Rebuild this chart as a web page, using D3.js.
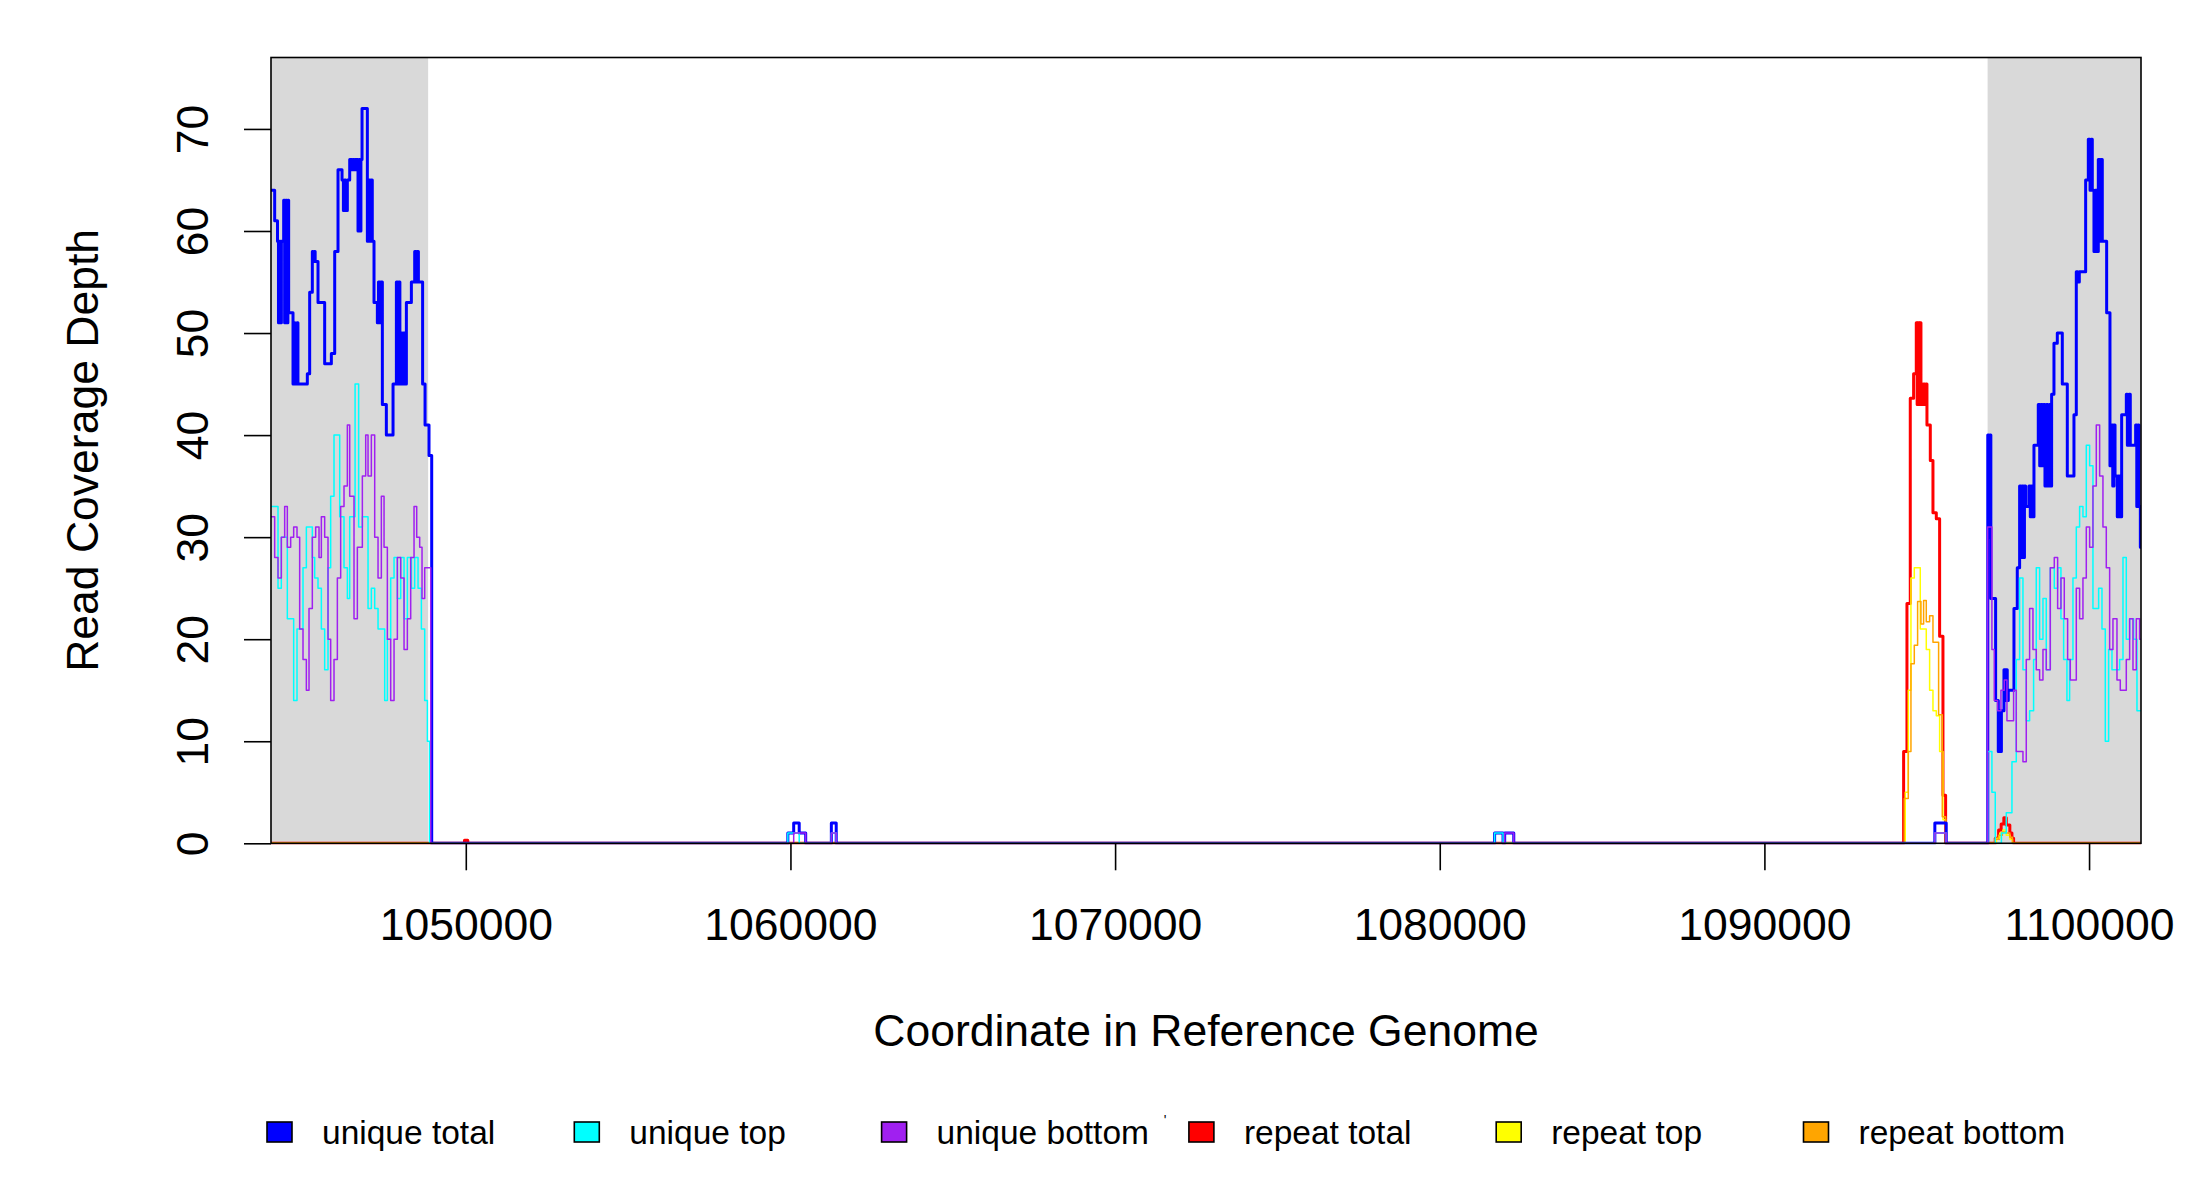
<!DOCTYPE html>
<html><head><meta charset="utf-8">
<script src="https://cdn.jsdelivr.net/npm/d3@7"></script>
<style>
body{margin:0;background:#fff;}
svg{display:block;}
text{font-family:"Liberation Sans", Arial, Helvetica, sans-serif;fill:#000;}
</style>
</head><body>
<svg id="chart" width="2200" height="1200"></svg>
<script>
// ---------------- data ----------------
const xDomain = [1044000, 1101600];
const yDomain = [0, 77];
const xTicks = [1050000, 1060000, 1070000, 1080000, 1090000, 1100000];
const yTicks = [0, 10, 20, 30, 40, 50, 60, 70];
const flankRegions = [[1044000, 1048840], [1096875, 1101600]];
const seriesNames = ["unique total", "unique top", "unique bottom", "repeat total", "repeat top", "repeat bottom"];
const xLabel = "Coordinate in Reference Genome";
const yLabel = "Read Coverage Depth";

// step breakpoints: [genome coordinate, depth]; depth holds until the next coordinate
const uniqueTotal = [
  [1044000,64],[1044113,61],[1044200,59],[1044230,51],[1044260,59],[1044290,51],[1044320,59],[1044390,63],[1044420,51],[1044450,63],[1044490,51],[1044520,63],[1044544,52],
  [1044678,45],[1044710,51],[1044740,45],[1044800,51],[1044830,45],[1045119,46],[1045191,54],[1045273,58],[1045300,57],[1045330,58],[1045360,57],[1045448,53],[1045653,47],
  [1045859,48],[1045962,58],[1046064,66],[1046188,65],[1046230,62],[1046270,65],[1046300,62],[1046352,65],[1046424,67],[1046480,66],[1046520,67],[1046560,66],[1046600,67],
  [1046680,60],[1046710,67],[1046740,60],[1046770,67],[1046804,72],[1046968,59],[1047000,65],[1047040,59],[1047080,65],[1047120,59],[1047173,53],[1047276,51],[1047310,55],
  [1047350,51],[1047390,55],[1047430,43],[1047553,40],[1047759,45],[1047862,55],[1047900,45],[1047940,55],[1047970,45],[1047995,50],[1048040,45],[1048080,50],[1048120,45],
  [1048170,53],[1048324,55],[1048426,58],[1048460,55],[1048500,58],[1048540,55],[1048670,45],[1048745,41],[1048867,38],[1048950,0],
  [1059920,1],[1060100,2],[1060270,1],[1060470,0],[1061260,2],[1061410,0],[1081690,1],[1081950,0],[1082000,1],[1082280,0],[1095250,2],[1095600,0],
  [1096880,40],[1096910,30],[1096940,40],[1096975,24],[1097122,14],[1097204,9],[1097235,13],[1097265,9],[1097300,13],[1097379,17],[1097410,14],[1097445,17],[1097480,14],
  [1097512,15],[1097687,23],[1097789,27],[1097861,35],[1097900,28],[1097940,35],[1097980,28],[1098010,35],[1098046,33],[1098149,35],[1098190,32],[1098230,35],[1098270,32],
  [1098303,39],[1098436,43],[1098480,37],[1098520,43],[1098560,37],[1098600,43],[1098642,35],[1098690,43],[1098730,35],[1098780,43],[1098820,35],[1098847,44],[1098919,49],
  [1099022,50],[1099176,45],[1099330,36],[1099535,42],[1099607,56],[1099650,55],[1099700,56],[1099895,65],[1099977,69],[1100030,64],[1100070,69],[1100100,64],[1100151,58],
  [1100190,64],[1100230,58],[1100285,67],[1100320,59],[1100360,67],[1100408,59],[1100542,52],[1100644,37],[1100700,41],[1100730,35],[1100768,41],[1100800,36],[1100870,32],
  [1100900,36],[1100940,32],[1101004,42],[1101148,44],[1101180,39],[1101230,44],[1101270,39],[1101435,41],[1101470,33],[1101500,41],[1101538,33],[1101580,29]
];
const uniqueTop = [
  [1044000,33],[1044216,25],[1044318,30],[1044503,22],[1044698,14],[1044801,21],[1044986,27],[1045089,31],[1045273,28],[1045345,26],[1045448,25],[1045551,21],[1045653,17],
  [1045756,27],[1045838,34],[1045941,40],[1046116,32],[1046249,27],[1046352,24],[1046424,32],[1046590,45],[1046700,31],[1046814,32],[1046989,23],[1047091,25],[1047194,23],
  [1047297,21],[1047502,14],[1047584,20],[1047687,26],[1047790,28],[1047892,24],[1047995,28],[1048098,22],[1048200,28],[1048324,25],[1048426,28],[1048529,25],[1048632,21],
  [1048734,14],[1048817,10],[1048883,0],
  [1059920,1],[1060270,0],[1061260,1],[1061410,0],[1081690,1],[1081950,0],[1095250,1],[1095600,0],
  [1096880,9],[1097008,5],[1097111,0],[1097300,1],[1097450,3],[1097625,8],[1097758,18],[1097861,26],[1097964,17],[1098066,12],[1098169,13],[1098292,18],[1098374,27],
  [1098477,20],[1098580,24],[1098682,17],[1098806,27],[1098929,25],[1099032,27],[1099134,22],[1099217,18],[1099319,14],[1099401,18],[1099504,26],[1099607,31],[1099709,33],
  [1099812,32],[1099915,39],[1100018,37],[1100120,23],[1100295,25],[1100398,21],[1100500,10],[1100603,19],[1100706,17],[1100942,18],[1101045,28],[1101147,20],[1101250,22],
  [1101373,20],[1101476,13]
];
const uniqueBottom = [
  [1044000,32],[1044113,28],[1044216,26],[1044318,30],[1044421,33],[1044503,29],[1044606,30],[1044698,31],[1044801,30],[1044883,21],[1044986,18],[1045089,15],[1045171,23],
  [1045273,30],[1045376,31],[1045479,28],[1045551,32],[1045653,30],[1045756,20],[1045838,14],[1045941,18],[1046044,26],[1046146,33],[1046249,35],[1046352,41],[1046424,34],
  [1046557,22],[1046660,29],[1046814,36],[1046917,40],[1046989,36],[1047091,40],[1047194,30],[1047297,26],[1047399,34],[1047482,29],[1047584,20],[1047687,14],[1047790,20],
  [1047892,28],[1047995,26],[1048098,19],[1048200,22],[1048303,28],[1048406,33],[1048488,30],[1048580,29],[1048652,24],[1048734,27],[1048920,0],
  [1060100,1],[1060470,0],[1061260,1],[1061410,0],[1082000,1],[1082280,0],[1095250,1],[1095600,0],
  [1096875,31],[1097008,19],[1097080,14],[1097183,13],[1097286,15],[1097388,16],[1097471,12],[1097676,15],[1097758,9],[1097964,8],[1098066,18],[1098169,23],[1098272,19],
  [1098374,17],[1098477,16],[1098580,19],[1098682,17],[1098806,27],[1098929,28],[1099032,23],[1099134,26],[1099237,22],[1099340,18],[1099422,16],[1099607,25],[1099709,22],
  [1099812,26],[1099915,31],[1100018,29],[1100120,35],[1100223,41],[1100326,36],[1100428,31],[1100531,27],[1100634,19],[1100736,22],[1100860,16],[1100962,15],[1101147,18],
  [1101250,22],[1101353,17],[1101455,22],[1101558,20]
];
const repeatTotal = [
  [1044000,0],[1049960,0.3],[1050060,0],
  [1094288,9],[1094391,23.5],[1094493,43.6],[1094596,46],[1094678,51],[1094705,43],[1094735,51],[1094765,43],[1094795,51],[1094822,45],[1094860,43],[1094900,45],
  [1094940,43],[1094970,45],[1095007,41],[1095110,37.5],[1095192,32.4],[1095295,31.8],[1095397,20.3],[1095500,4.7],[1095582,0],
  [1097111,0.5],[1097214,1.3],[1097293,1.9],[1097375,2.5],[1097450,1.8],[1097560,1.0],[1097625,0.5],[1097676,0]
];
const repeatTop = [
  [1044000,0],
  [1094339,5],[1094432,15],[1094514,26],[1094617,27],[1094801,21],[1094986,19],[1095089,15],[1095192,13],[1095295,12.5],[1095397,9],[1095500,2.3],[1095582,0],
  [1097150,0.5],[1097250,1],[1097350,1.3],[1097450,0.8],[1097560,0.4],[1097640,0]
];
const repeatBottom = [
  [1044000,0],
  [1094308,4.4],[1094432,9],[1094514,17.6],[1094617,19.4],[1094719,23.7],[1094822,21.5],[1094904,23.8],[1094986,21.7],[1095089,22.3],[1095192,19.7],[1095366,12.6],
  [1095479,2.6],[1095582,0],
  [1097111,0.4],[1097214,0.8],[1097330,1.1],[1097450,1],[1097560,0.6],[1097640,0]
];

// ---------------- layout / style ----------------
const W = 2200, H = 1200;
const m = {left: 271, top: 57.5, right: 2141, bottom: 843.3};
const pw = m.right - m.left, ph = m.bottom - m.top;
const colors = {
  "unique total": "#0000ff", "unique top": "#00ffff", "unique bottom": "#a020f0",
  "repeat total": "#ff0000", "repeat top": "#ffff00", "repeat bottom": "#ffa500"
};
const widths = {
  "unique total": 3, "unique top": 1.5, "unique bottom": 1.5,
  "repeat total": 3, "repeat top": 1.5, "repeat bottom": 1.5
};
const seriesData = {
  "unique total": uniqueTotal, "unique top": uniqueTop, "unique bottom": uniqueBottom,
  "repeat total": repeatTotal, "repeat top": repeatTop, "repeat bottom": repeatBottom
};
const drawOrder = ["repeat total", "repeat top", "repeat bottom", "unique total", "unique top", "unique bottom"];

const svg = d3.select("#chart");
svg.append("rect").attr("width", W).attr("height", H).attr("fill", "#fff");

const x = d3.scaleLinear().domain(xDomain).range([0, pw]);
const y = d3.scaleLinear().domain(yDomain).range([ph, 0]);

const g = svg.append("g").attr("transform", `translate(${m.left},${m.top})`);

svg.append("defs").append("clipPath").attr("id", "clip")
  .append("rect").attr("x", 0).attr("y", -2).attr("width", pw).attr("height", ph + 3);

// flank shading
g.selectAll("rect.flank").data(flankRegions).join("rect")
  .attr("class", "flank")
  .attr("x", d => x(d[0])).attr("y", 0)
  .attr("width", d => x(d[1]) - x(d[0])).attr("height", ph)
  .attr("fill", "#d9d9d9");

function stepPoints(breaks) {
  const pts = [];
  if (breaks[0][0] > xDomain[0]) pts.push([xDomain[0], 0]);
  breaks.forEach(b => pts.push(b));
  pts.push([xDomain[1], breaks[breaks.length - 1][1]]);
  return pts;
}
const line = d3.line().x(d => x(d[0])).y(d => y(d[1])).curve(d3.curveStepAfter);

const lines = g.append("g").attr("clip-path", "url(#clip)");
drawOrder.forEach(name => {
  lines.append("path")
    .datum(stepPoints(seriesData[name]))
    .attr("d", line)
    .attr("fill", "none")
    .attr("stroke", colors[name])
    .attr("stroke-width", widths[name])
    .attr("stroke-linejoin", "round")
    .attr("stroke-linecap", "round");
});

// box
g.append("rect").attr("x", 0).attr("y", 0).attr("width", pw).attr("height", ph)
  .attr("fill", "none").attr("stroke", "#000").attr("stroke-width", 1.6);

// x axis
const xAxis = g.append("g").attr("transform", `translate(0,${ph})`)
  .call(d3.axisBottom(x).tickValues(xTicks).tickFormat(d3.format("d")).tickSize(27));
xAxis.select(".domain").remove();
xAxis.selectAll("line").attr("stroke", "#000").attr("stroke-width", 1.6);
xAxis.selectAll("text").attr("y", 96.5).attr("dy", 0)
  .style("font-size", "44.5px").style("font-family", "'Liberation Sans', Arial, sans-serif").attr("fill", "#000");

// y axis
const yAxis = g.append("g")
  .call(d3.axisLeft(y).tickValues(yTicks).tickSize(27));
yAxis.select(".domain").remove();
yAxis.selectAll("line").attr("stroke", "#000").attr("stroke-width", 1.6);
yAxis.selectAll("text")
  .attr("transform", "rotate(-90)")
  .attr("x", 0).attr("y", -63).attr("dy", 0)
  .attr("text-anchor", "middle")
  .style("font-size", "44.5px").style("font-family", "'Liberation Sans', Arial, sans-serif").attr("fill", "#000");

// axis titles
svg.append("text").attr("x", m.left + pw / 2).attr("y", 1046)
  .attr("text-anchor", "middle").style("font-size", "44.5px").text(xLabel);
svg.append("text").attr("transform", `translate(98,${m.top + ph / 2}) rotate(-90)`)
  .attr("text-anchor", "middle").style("font-size", "44.5px").text(yLabel);

// legend
const legend = svg.append("g");
const lgX0 = 267, lgStep = 307.3, lgY = 1122;
seriesNames.forEach((name, i) => {
  const lx = lgX0 + i * lgStep;
  legend.append("rect").attr("x", lx).attr("y", lgY).attr("width", 25).attr("height", 20)
    .attr("fill", colors[name]).attr("stroke", "#000").attr("stroke-width", 1.6);
  legend.append("text").attr("x", lx + 55).attr("y", lgY + 21.5)
    .style("font-size", "33.5px").text(name);
});
legend.append("text").attr("x", 1165).attr("y", 1125).attr("text-anchor", "middle")
  .style("font-size", "14px").text("'");
</script>
</body></html>
